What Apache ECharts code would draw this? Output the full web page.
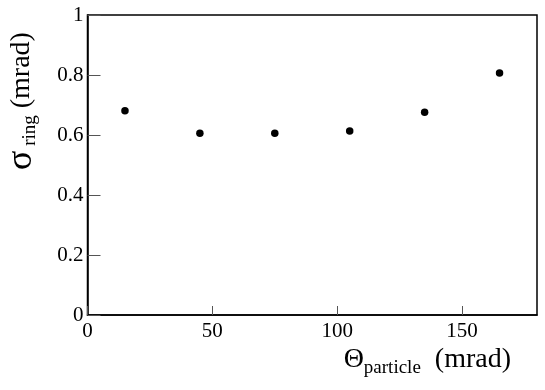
<!DOCTYPE html>
<html>
<head>
<meta charset="utf-8">
<script src="https://cdn.jsdelivr.net/npm/echarts@6/dist/echarts.min.js"></script>
<style>
  html, body { margin: 0; padding: 0; background: #fff; }
  #chart { width: 545px; height: 390px; }
</style>
</head>
<body>
<div id="chart"></div>
<script>
// bin centres of theta_particle (mrad) and measured sigma_ring (mrad)
var thetaParticle = [15, 45, 75, 105, 135, 165];
var sigmaRing = [0.681, 0.606, 0.606, 0.613, 0.676, 0.807];

var serif = 'Liberation Serif';

var chart = echarts.init(document.getElementById('chart'));

var points = thetaParticle.map(function (t, i) {
  return [t, sigmaRing[i]];
});

var options = {
  backgroundColor: '#fff',
  animation: false,
  grid: {
    show: true,
    left: 87.5,
    top: 15,
    right: 8,
    bottom: 75,
    borderColor: '#000',
    borderWidth: 1.5
  },
  xAxis: {
    type: 'value',
    min: 0,
    max: 180,
    interval: 50,
    splitLine: { show: false },
    axisLine: { lineStyle: { color: '#000', width: 1.5 } },
    axisTick: { inside: true, length: 9, lineStyle: { color: '#555', width: 1 } },
    axisLabel: {
      margin: 6,
      fontFamily: serif,
      fontSize: 21,
      color: '#000',
      showMaxLabel: false,
      formatter: function (v) { return v % 50 === 0 ? String(v) : ''; }
    }
  },
  yAxis: {
    type: 'value',
    min: 0,
    max: 1,
    interval: 0.2,
    splitLine: { show: false },
    axisLine: { lineStyle: { color: '#000', width: 1.5 } },
    axisTick: { inside: true, length: 13, lineStyle: { color: '#555', width: 1 } },
    axisLabel: {
      margin: 4,
      fontFamily: serif,
      fontSize: 21,
      color: '#000'
    }
  },
  series: [
    {
      type: 'scatter',
      data: points,
      symbol: 'circle',
      symbolSize: 7.5,
      itemStyle: { color: '#000', opacity: 1 }
    }
  ],
  graphic: [
    {
      type: 'text',
      x: 511,
      y: 360,
      style: {
        text: '{m|\u0398}{s|particle}{m|  (mrad)}',
        align: 'right',
        verticalAlign: 'middle',
        fill: '#000',
        rich: {
          m: { fontFamily: serif, fontSize: 28, lineHeight: 36, verticalAlign: 'middle', fill: '#000' },
          s: { fontFamily: serif, fontSize: 19, lineHeight: 22, verticalAlign: 'bottom', fill: '#000' }
        }
      }
    },
    {
      type: 'text',
      x: 22,
      y: 170,
      rotation: Math.PI / 2,
      style: {
        text: '{g|\u03c3}{s| ring}{m| (mrad)}',
        align: 'left',
        verticalAlign: 'middle',
        fill: '#000',
        rich: {
          g: { fontFamily: serif, fontSize: 36, lineHeight: 36, verticalAlign: 'middle', fill: '#000' },
          m: { fontFamily: serif, fontSize: 28, lineHeight: 36, verticalAlign: 'middle', fill: '#000' },
          s: { fontFamily: serif, fontSize: 19, lineHeight: 22, verticalAlign: 'bottom', fill: '#000' }
        }
      }
    }
  ]
};

chart.setOption(options);
</script>
</body>
</html>
